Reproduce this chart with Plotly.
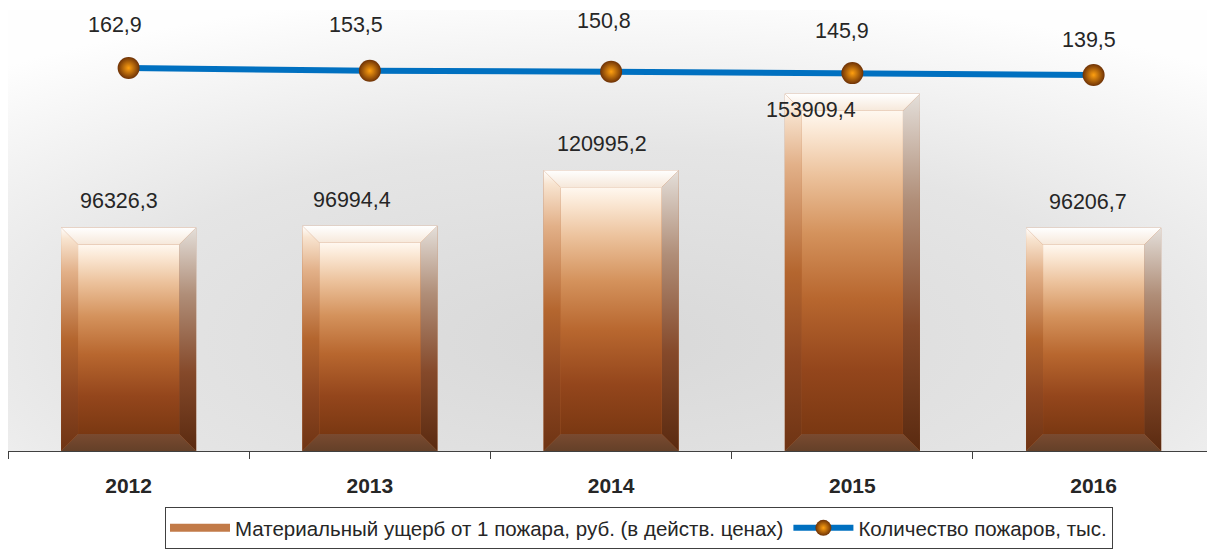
import base64
import plotly.graph_objects as go

# ---------------- data ----------------
years = ["2012", "2013", "2014", "2015", "2016"]
damage = [96326.3, 96994.4, 120995.2, 153909.4, 96206.7]
fires = [162.9, 153.5, 150.8, 145.9, 139.5]
damage_name = "Материальный ущерб от 1 пожара, руб. (в действ. ценах)"
fires_name = "Количество пожаров, тыс."

# ---------------- layout constants (style) ----------------
W, H = 1207, 551
ML, MR, MT, MB = 8, 0, 10, 100
PW, PH = W - ML - MR, H - MT - MB
XR = [-0.5, 4.47]
YR = [0, 190000]
Y2R = [-1117, 356.8]
BAR_W = 0.56
BEVEL_PX = 17
bx = BEVEL_PX * (XR[1] - XR[0]) / PW
by = BEVEL_PX * (YR[1] - YR[0]) / PH

FONT = "Liberation Sans, Arial, sans-serif"
TXT = "#262626"

bar_lbl_dx = [-10, -18, -9, -41, -6]
bar_lbl_dy = [26, 26, 26, -16, 26]
line_lbl_dx = [-14, -14, -7, -10, -5]
line_lbl_dy = [43, 46, 51, 42, 35]

front_cs = [[0, "#7a3812"], [0.2, "#94461c"], [0.42, "#b8672f"], [0.62, "#d4925c"],
            [0.8, "#ecc29c"], [0.93, "#fae6d2"], [1, "#fff8f0"]]
left_cs = [[0, "#6e3414"], [0.25, "#8e4620"], [0.5, "#b4662f"], [0.8, "#e2b088"],
           [0.95, "#f8e4d0"], [1, "#ffffff"]]
right_cs = [[0, "#5a2a10"], [0.35, "#85492a"], [0.7, "#b08e78"], [1, "#e4dfda"]]
top_cs = [[0, "#f6e8da"], [1, "#ffffff"]]
bottom_cs = [[0, "#644028"], [1, "#7a4a30"]]

fig = go.Figure()

xpos = list(range(len(years)))

# base bar trace (covered by bevel faces)
fig.add_trace(go.Bar(x=xpos, y=damage, width=BAR_W, marker=dict(color="#b4622e", line=dict(width=0)),
                     name=damage_name, showlegend=False, hoverinfo="skip", legendgroup="dmg"))


def face(xs, ys, cs):
    return go.Scatter(x=xs, y=ys, mode="lines", fill="toself", line=dict(width=0, color="rgba(0,0,0,0)"),
                      fillgradient=dict(type="vertical", colorscale=cs), hoverinfo="skip",
                      showlegend=False, name=damage_name, legendgroup="dmg")


for i, v in enumerate(damage):
    x0, x1 = i - BAR_W / 2, i + BAR_W / 2
    fig.add_trace(face([x0, x0 + bx, x0 + bx, x0, x0], [v, v - by, by, 0, v], left_cs))
    fig.add_trace(face([x1, x1, x1 - bx, x1 - bx, x1], [v, 0, by, v - by, v], right_cs))
    fig.add_trace(face([x0, x1, x1 - bx, x0 + bx, x0], [0, 0, by, by, 0], bottom_cs))
    fig.add_trace(face([x0, x1, x1 - bx, x0 + bx, x0], [v, v, v - by, v - by, v], top_cs))
    fig.add_trace(face([x0 + bx, x1 - bx, x1 - bx, x0 + bx, x0 + bx],
                       [by, by, v - by, v - by, by], front_cs))

# legend entry for the bar series (wide rectangle symbol)
fig.add_trace(go.Scatter(x=[None], y=[None], mode="lines", name=damage_name, legendgroup="dmg",
                         line=dict(color="#c27a48", width=8), hoverinfo="skip"))

# line of fires count
fig.add_trace(go.Scatter(x=xpos, y=fires, yaxis="y2", mode="lines+markers", name=fires_name,
                         line=dict(color="#0070c0", width=6),
                         marker=dict(size=22, color="#6e3206",
                                     gradient=dict(type="radial", color="#ffa010"),
                                     line=dict(width=0))))

fmt = lambda v: f"{v:.1f}".replace(".", ",")
ann = []
for i, v in enumerate(damage):
    ann.append(dict(x=i, y=v, xref="x", yref="y", text=fmt(v), showarrow=False,
                    xshift=bar_lbl_dx[i], yshift=bar_lbl_dy[i],
                    font=dict(family=FONT, size=21.5, color=TXT)))
for i, v in enumerate(fires):
    ann.append(dict(x=i, y=v, xref="x", yref="y2", text=fmt(v), showarrow=False,
                    xshift=line_lbl_dx[i], yshift=line_lbl_dy[i],
                    font=dict(family=FONT, size=21.5, color=TXT)))

svg = ('<svg xmlns="http://www.w3.org/2000/svg" width="1199" height="441" viewBox="0 0 100 100" '
       'preserveAspectRatio="none"><defs><radialGradient id="g" cx="0.5" cy="0.75" r="0.8">'
       '<stop offset="0" stop-color="#d8d8d8"/><stop offset="0.55" stop-color="#e5e5e5"/>'
       '<stop offset="1" stop-color="#fefefe"/></radialGradient></defs>'
       '<rect width="100" height="100" fill="url(#g)"/></svg>')
src = "data:image/svg+xml;base64," + base64.b64encode(svg.encode()).decode()

fig.update_layout(
    width=W, height=H,
    margin=dict(l=ML, r=MR, t=MT, b=MB),
    paper_bgcolor="white", plot_bgcolor="white",
    font=dict(family=FONT, color=TXT),
    showlegend=True,
    annotations=ann,
    images=[dict(source=src, xref="paper", yref="paper", x=0, y=1, sizex=1, sizey=1,
                 xanchor="left", yanchor="top", sizing="stretch", layer="below")],
    xaxis=dict(range=XR, tickmode="array", tickvals=xpos, ticktext=years, ticks="",
               tickfont=dict(family=FONT, size=21, color=TXT, weight="bold"),
               ticklabelstandoff=16,
               showline=True, linecolor="#404040", linewidth=1, showgrid=False, zeroline=False,
               minor=dict(ticks="outside", ticklen=7, tickcolor="#404040", tickwidth=1,
                          tickmode="array", tickvals=[k - 0.5 for k in range(len(years) + 1)],
                          showgrid=False)),
    yaxis=dict(range=YR, visible=False, showgrid=False, zeroline=False),
    yaxis2=dict(range=Y2R, overlaying="y", visible=False, showgrid=False, zeroline=False),
    legend=dict(orientation="h", x=(165 - ML) / PW, xanchor="left", y=(451 - 507) / PH,
                yanchor="top", bordercolor="#404040", borderwidth=1, bgcolor="white",
                font=dict(family=FONT, size=20.5, color=TXT), itemwidth=60,
                tracegroupgap=0),
    hovermode=False,
)

fig.write_html("out.html", config={"displayModeBar": False},
               post_script="document.body.style.margin='0';")
